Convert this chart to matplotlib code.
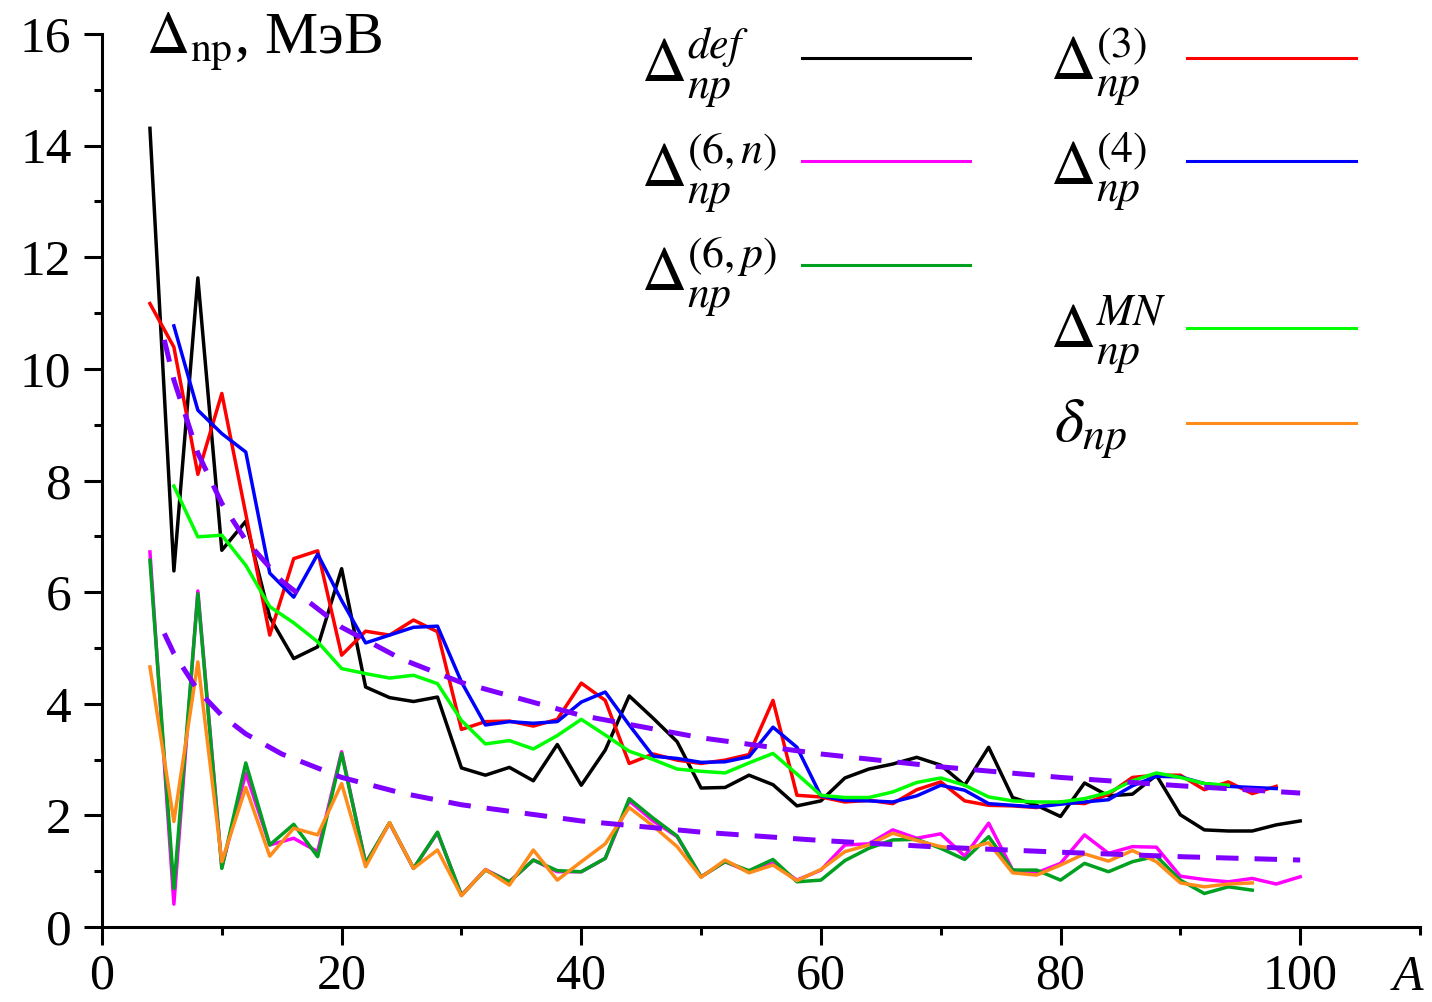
import matplotlib
matplotlib.use("Agg")
import matplotlib.pyplot as plt
from matplotlib.lines import Line2D
from matplotlib.ticker import MultipleLocator

plt.rcParams['font.family'] = ['Liberation Serif', 'DejaVu Serif']
plt.rcParams['mathtext.fontset'] = 'stix'

# mass number A (even nuclei) and the pairing-gap estimates, MeV
A_def = list(range(4, 101, 2))
d_def = [14.31, 6.38, 11.63, 6.75, 7.27, 5.55, 4.81, 5.02, 6.42, 4.30,
         4.11, 4.04, 4.12, 2.85, 2.72, 2.86, 2.62, 3.27, 2.54, 3.17,
         4.14, 3.74, 3.32, 2.49, 2.50, 2.72, 2.55, 2.17, 2.26, 2.67,
         2.83, 2.92, 3.04, 2.90, 2.54, 3.22, 2.32, 2.18, 1.98, 2.58,
         2.35, 2.38, 2.72, 2.01, 1.74, 1.72, 1.72, 1.83, 1.90]

A_3 = list(range(4, 99, 2))
d_3 = [11.17, 10.39, 8.11, 9.56, 7.40, 5.23, 6.60, 6.74, 4.87, 5.30,
       5.23, 5.50, 5.29, 3.54, 3.68, 3.69, 3.60, 3.72, 4.37, 4.06,
       2.93, 3.10, 2.99, 2.93, 2.99, 3.09, 4.06, 2.36, 2.33, 2.24,
       2.27, 2.21, 2.46, 2.60, 2.26, 2.18, 2.17, 2.14, 2.24, 2.21,
       2.38, 2.68, 2.72, 2.72, 2.46, 2.60, 2.39, 2.52]

A_4 = list(range(6, 99, 2))
d_4 = [10.77, 9.26, 8.84, 8.51, 6.34, 5.91, 6.68, 5.85, 5.09, 5.23,
       5.37, 5.39, 4.39, 3.62, 3.68, 3.65, 3.68, 4.03, 4.21, 3.62,
       3.06, 3.02, 2.95, 2.96, 3.05, 3.58, 3.22, 2.35, 2.27, 2.26,
       2.24, 2.35, 2.54, 2.45, 2.21, 2.18, 2.15, 2.20, 2.24, 2.28,
       2.53, 2.70, 2.69, 2.57, 2.52, 2.50, 2.48]

A_mn = list(range(6, 95, 2))
d_mn = [7.90, 6.99, 7.02, 6.48, 5.74, 5.45, 5.11, 4.63, 4.54, 4.46,
        4.51, 4.36, 3.70, 3.28, 3.34, 3.19, 3.43, 3.72, 3.44, 3.15,
        3.00, 2.83, 2.79, 2.76, 2.94, 3.11, 2.74, 2.36, 2.32, 2.32,
        2.42, 2.59, 2.67, 2.54, 2.33, 2.26, 2.24, 2.24, 2.30, 2.41,
        2.62, 2.76, 2.68, 2.57, 2.54]

A_6n = list(range(4, 101, 2))
d_6n = [6.72, 0.41, 6.02, 1.07, 2.76, 1.47, 1.59, 1.35, 3.14, 1.14,
        1.86, 1.05, 1.69, 0.57, 1.03, 0.81, 1.20, 0.99, 0.99, 1.23,
        2.26, 1.90, 1.62, 0.90, 1.17, 0.99, 1.14, 0.84, 1.02, 1.47,
        1.49, 1.74, 1.59, 1.67, 1.27, 1.86, 1.02, 0.97, 1.14, 1.65,
        1.32, 1.44, 1.43, 0.91, 0.85, 0.81, 0.87, 0.77, 0.90]

A_6p = list(range(4, 97, 2))
d_6p = [6.57, 0.69, 5.97, 1.05, 2.94, 1.47, 1.84, 1.26, 3.11, 1.14,
        1.87, 1.05, 1.70, 0.57, 1.02, 0.81, 1.20, 1.01, 0.99, 1.23,
        2.30, 1.95, 1.63, 0.90, 1.17, 1.01, 1.21, 0.81, 0.84, 1.19,
        1.41, 1.56, 1.57, 1.41, 1.21, 1.62, 1.02, 1.02, 0.84, 1.14,
        0.99, 1.17, 1.27, 0.84, 0.60, 0.72, 0.66]

A_dl = list(range(4, 97, 2))
d_dl = [4.66, 1.89, 4.75, 1.17, 2.50, 1.27, 1.77, 1.65, 2.57, 1.08,
        1.87, 1.05, 1.38, 0.56, 1.03, 0.75, 1.38, 0.84, 1.17, 1.49,
        2.14, 1.81, 1.44, 0.89, 1.20, 0.97, 1.11, 0.83, 1.03, 1.35,
        1.47, 1.68, 1.55, 1.44, 1.39, 1.51, 0.97, 0.93, 1.11, 1.31,
        1.18, 1.37, 1.17, 0.79, 0.72, 0.77, 0.79]

# smooth systematics (dashed)
A_sys = [5.2, 6, 8, 10, 12, 15, 20, 25, 30, 40, 50, 60, 70, 80, 90, 100]
d_sys_hi = [10.52, 9.80, 8.49, 7.59, 6.93, 6.20, 5.37, 4.80, 4.38, 3.79,
            3.39, 3.10, 2.87, 2.68, 2.53, 2.40]
d_sys_lo = [5.26, 4.90, 4.24, 3.79, 3.46, 3.10, 2.68, 2.40, 2.19, 1.90,
            1.70, 1.55, 1.43, 1.34, 1.26, 1.20]

C_DEF, C_6N, C_6P = 'black', '#FF00FF', '#00A020'
C_3, C_4, C_MN, C_DL = '#FF0000', '#0000FF', '#00FF00', '#FF8C1A'
C_SYS = '#7F00FF'

fig = plt.figure(figsize=(14.32, 10.02), dpi=100)
W, H = 1432.0, 1002.0
ax = fig.add_axes([102 / W, 1 - 927 / H, 1318 / W, 893 / H])

lw = 2.5
ax.plot(A_def, d_def, color=C_DEF, lw=lw)
ax.plot(A_3, d_3, color=C_3, lw=lw)
ax.plot(A_4, d_4, color=C_4, lw=lw)
ax.plot(A_mn, d_mn, color=C_MN, lw=lw)
ax.plot(A_6n, d_6n, color=C_6N, lw=lw)
ax.plot(A_6p, d_6p, color=C_6P, lw=lw)
ax.plot(A_dl, d_dl, color=C_DL, lw=lw)
for d in (d_sys_hi, d_sys_lo):
    ax.plot(A_sys, d, color=C_SYS, lw=3.6, dashes=(4.5, 3.2))

ax.set_xlim(0, 110)
ax.set_ylim(0, 16)
ax.spines['top'].set_visible(False)
ax.spines['right'].set_visible(False)
for s in ('left', 'bottom'):
    ax.spines[s].set_linewidth(2.2)
ax.xaxis.set_major_locator(MultipleLocator(20))
ax.xaxis.set_minor_locator(MultipleLocator(10))
ax.yaxis.set_major_locator(MultipleLocator(2))
ax.yaxis.set_minor_locator(MultipleLocator(1))
ax.set_xticks([0, 20, 40, 60, 80, 100])
ax.tick_params(which='major', length=13, width=2.2, labelsize=37, pad=9)
ax.tick_params(which='minor', length=6, width=2.2)
ax.tick_params(axis='x', labelsize=36, pad=6)

fig.text(1408 / W, 1 - 990 / H, 'A', fontsize=36, style='italic',
         ha='center', va='baseline')
fig.text(146 / W, 1 - 54 / H, r'$\Delta_{\mathrm{np}}$, МэВ', fontsize=43,
         va='baseline')

# legend drawn by hand: label, colour, text x, text baseline, line x-range, line y
entries = [
    (r'$\Delta_{np}^{def}$', C_DEF, 641, 82, (802, 970), 58),
    (r'$\Delta_{np}^{(6,n)}$', C_6N, 641, 186, (802, 970), 161),
    (r'$\Delta_{np}^{(6,p)}$', C_6P, 641, 290, (802, 970), 265),
    (r'$\Delta_{np}^{(3)}$', C_3, 1050, 80, (1187, 1356), 58),
    (r'$\Delta_{np}^{(4)}$', C_4, 1050, 185, (1187, 1356), 161),
    (r'$\Delta_{np}^{MN}$', C_MN, 1050, 348, (1187, 1356), 328),
    (r'$\delta_{np}$', C_DL, 1054, 442, (1187, 1356), 423),
]
for label, color, tx, ty, (x0, x1), ly in entries:
    fig.text(tx / W, 1 - ty / H, label, fontsize=45, va='baseline')
    fig.add_artist(Line2D([x0 / W, x1 / W], [1 - ly / H, 1 - ly / H],
                          color=color, lw=2.2, transform=fig.transFigure))

fig.savefig('out.png', dpi=100)
